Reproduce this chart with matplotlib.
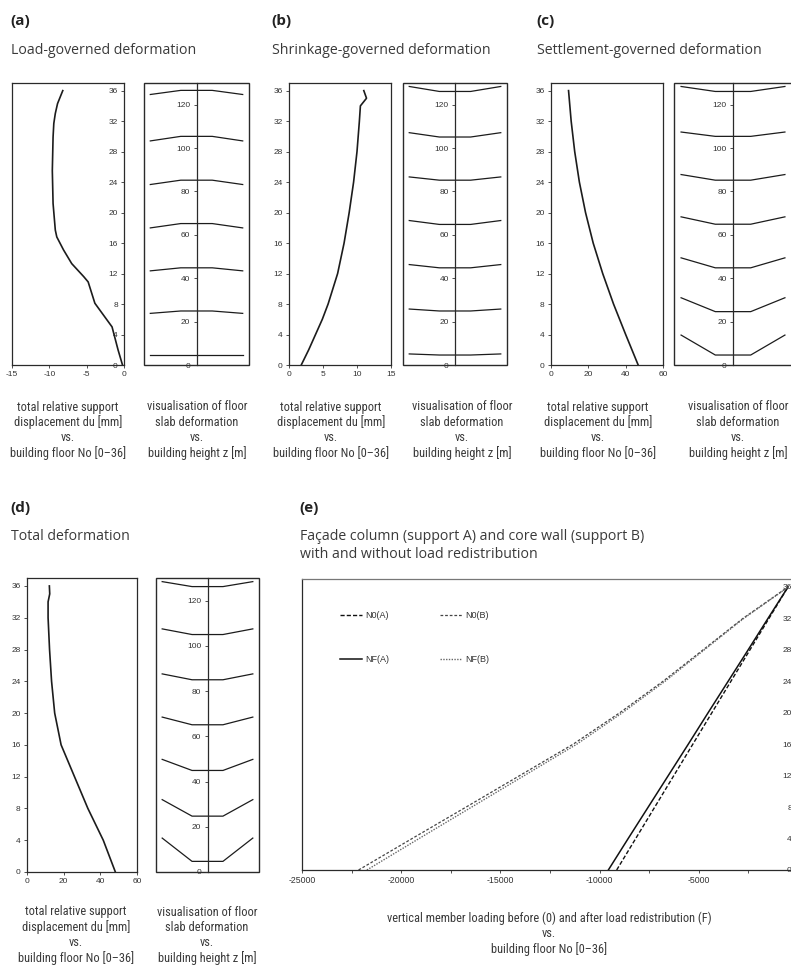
import matplotlib as mpl
import matplotlib.pyplot as plt
from matplotlib.patches import Rectangle

mpl.rcParams.update({
    "font.family": ["Liberation Sans", "DejaVu Sans"],
    "axes.unicode_minus": False,
    "axes.linewidth": 0.9,
})

W, H = 791, 965
LINE = "#1c1c1c"
FRAME = "#2a2a2a"
TXT = "#3a3a3a"
TICK_FONT = ["Liberation Sans", "DejaVu Sans"]
CAP_FONT = ["Roboto Condensed", "Liberation Sans Narrow", "Liberation Sans", "DejaVu Sans"]
HEAD_FONT = ["Open Sans", "DejaVu Sans"]

# --- support displacement du [mm] vs floor ---
floors_a = [0, 2, 5, 8.1, 10.9, 11.6, 13.3, 15.1, 16.8, 17.7, 21.2, 25.5, 29.9, 31.7, 33, 34.3, 36]
du_a = [-0.2, -0.8, -1.6, -3.9, -4.8, -5.4, -7.0, -8.1, -9.0, -9.2, -9.5, -9.6, -9.5, -9.4, -9.2, -8.9, -8.2]

floors_b = [0, 2, 4, 6, 8, 12, 16, 20, 24, 28, 32, 34, 35, 36]
du_b = [1.8, 2.9, 3.9, 4.9, 5.75, 7.15, 8.1, 8.85, 9.5, 10.0, 10.35, 10.5, 11.4, 11.0]

floors_c = [0, 4, 8, 12, 16, 20, 24, 28, 32, 36]
du_c = [46.7, 40.0, 33.5, 27.7, 22.6, 18.5, 15.2, 12.7, 10.8, 9.4]

floors_d = [0, 4, 8, 12, 16, 20, 24, 28, 32, 34, 35, 36]
du_d = [48.2, 41.6, 33.2, 25.9, 18.6, 15.1, 13.4, 12.3, 11.5, 11.5, 12.4, 12.2]

# --- floor slab visualisation: height z [m] at slab edge / at core ---
slab_x = [-0.88, -0.3, 0.3, 0.88]
edge_a = [4.6, 23.8, 43.4, 63.2, 83.2, 103.3, 124.7]
core_a = [4.6, 24.9, 44.8, 65.2, 85.2, 105.4, 126.6]
edge_b = [5.1, 25.8, 46.3, 66.6, 86.7, 107.1, 128.4]
core_b = [4.6, 24.9, 44.8, 64.8, 85.2, 105.1, 126.1]
edge_c = [13.8, 31.0, 49.4, 68.3, 87.8, 107.4, 128.4]
core_c = [4.6, 24.6, 44.8, 64.9, 85.2, 105.4, 126.1]
edge_d = [15.0, 32.0, 49.8, 68.5, 87.6, 107.5, 128.4]
core_d = [4.7, 24.7, 44.9, 65.1, 85.0, 105.0, 126.2]

# --- (e) vertical member loading vs floor ---
floors_e = [0, 4, 8, 12, 16, 20, 24, 28, 32, 36]
n0_a = [-9140, -8180, -7220, -6260, -5300, -4340, -3380, -2420, -1460, -500]
nf_a = [-9560, -8560, -7550, -6540, -5530, -4530, -3520, -2510, -1510, -500]
n0_b = [-22150, -19450, -16730, -14030, -11330, -8980, -6800, -4780, -2770, -500]
nf_b = [-21730, -19100, -16450, -13800, -11150, -8850, -6700, -4720, -2730, -480]

cap_main = ["total relative support", "displacement du [mm]", "vs.", "building floor No [0\u201336]"]
cap_viz = ["visualisation of floor", "slab deformation", "vs.", "building height z [m]"]
cap_e = ["vertical member loading before (0) and after load redistribution (F)", "vs.",
         "building floor No [0\u201336]"]


def rect(x0, y0, x1, y1):
    return [x0 / W, 1 - y1 / H, (x1 - x0) / W, (y1 - y0) / H]


def ticks_style(ax):
    ax.tick_params(labelsize=6, colors="#333333", length=2.5, width=0.6, pad=2)
    for lbl in ax.get_xticklabels() + ax.get_yticklabels():
        lbl.set_family(TICK_FONT)


def main_panel(ax, floors, du, xlim, xticks, axis_right=False):
    if axis_right:
        ax.spines["left"].set_position(("axes", 1.0))
        ax.spines["right"].set_position(("axes", 0.0))
    for s in ax.spines.values():
        s.set_color(FRAME)
    ax.plot(du, floors, color=LINE, lw=1.2)
    ax.set_xlim(*xlim)
    ax.set_ylim(0, 37)
    ax.set_xticks(xticks)
    ax.set_yticks(range(0, 37, 4))
    ax.yaxis.set_ticks_position("left")
    ax.xaxis.set_ticks_position("bottom")
    ticks_style(ax)


def viz_panel(ax, edge, core):
    for ze, zc in zip(edge, core):
        ax.plot(slab_x, [ze, zc, zc, ze], color=LINE, lw=0.9)
    ax.set_xlim(-1, 1)
    ax.set_ylim(0, 130)
    ax.spines["left"].set_position(("data", 0))
    ax.spines["left"].set_color(FRAME)
    for s in ["right", "top", "bottom"]:
        ax.spines[s].set_visible(False)
    ax.add_patch(Rectangle((0, 0), 1, 1, transform=ax.transAxes, fill=False,
                           lw=1.0, ec=FRAME, clip_on=False))
    ax.set_xticks([])
    ax.set_yticks(range(0, 121, 20))
    ax.yaxis.set_ticks_position("left")
    ticks_style(ax)


def fit_size(text, target_px, base):
    # shrink the caption font when no condensed face is installed
    t = fig.text(0, 0, text, fontsize=base, family=CAP_FONT)
    w = t.get_window_extent(fig.canvas.get_renderer()).width
    t.remove()
    return base * min(1.0, target_px / w)


def caption(lines, xc, y0, size, step=15.2):
    for i, t in enumerate(lines):
        fig.text(xc / W, 1 - (y0 + i * step) / H, t, ha="center", va="center",
                 fontsize=size, color=TXT, family=CAP_FONT)


def heading(tag, lines, x, y):
    fig.text(x / W, 1 - y / H, tag, ha="left", va="center", fontsize=11,
             fontweight="bold", color="#222222", family=HEAD_FONT)
    for i, t in enumerate(lines):
        fig.text((x + 1) / W, 1 - (y + 29 + i * 18) / H, t, ha="left", va="center",
                 fontsize=10.2, color=TXT, family=HEAD_FONT)


fig = plt.figure(figsize=(W / 100, H / 100), dpi=100)

ax = fig.add_axes(rect(12, 83, 124, 365))
main_panel(ax, floors_a, du_a, (-15, 0), [-15, -10, -5, 0], axis_right=True)
viz_panel(fig.add_axes(rect(144, 83, 249, 365)), edge_a, core_a)

ax = fig.add_axes(rect(289, 83, 391, 365))
main_panel(ax, floors_b, du_b, (0, 15), [0, 5, 10, 15])
viz_panel(fig.add_axes(rect(403, 83, 507, 365)), edge_b, core_b)

ax = fig.add_axes(rect(551, 83, 663, 365))
main_panel(ax, floors_c, du_c, (0, 60), [0, 20, 40, 60])
viz_panel(fig.add_axes(rect(674, 83, 792, 365)), edge_c, core_c)

ax = fig.add_axes(rect(27, 578, 137, 872))
main_panel(ax, floors_d, du_d, (0, 60), [0, 20, 40, 60])
viz_panel(fig.add_axes(rect(156, 578, 259, 872)), edge_d, core_d)

# (e) loading chart, y axis sits at x = 0 just beyond the right edge
ax = fig.add_axes(rect(302, 579, 798, 870))
ax.spines["left"].set_position(("axes", 1.0))
ax.spines["right"].set_position(("axes", 0.0))
for s in ax.spines.values():
    s.set_color(FRAME)
ax.spines["top"].set_color("#777777")
ax.plot(n0_a, floors_e, color="#111111", lw=1.0, ls=(0, (3, 1.5)), label="N0(A)")
ax.plot(nf_a, floors_e, color="#111111", lw=1.1, label="NF(A)")
ax.plot(n0_b, floors_e, color="#444444", lw=0.9, ls=(0, (2.2, 1.5)), label="N0(B)")
ax.plot(nf_b, floors_e, color="#666666", lw=1.0, ls=(0, (1, 1)), label="NF(B)")
ax.set_xlim(-25000, 0)
ax.set_ylim(0, 37)
ax.set_xticks(range(-25000, 1, 5000))
ax.set_xticks(range(-22500, 0, 5000), minor=True)
ax.set_yticks(range(0, 37, 4))
ax.yaxis.set_ticks_position("left")
ax.xaxis.set_ticks_position("bottom")
ticks_style(ax)
ax.tick_params(axis="x", labelsize=6.3)
ax.tick_params(which="minor", length=2.5, width=0.6, colors="#333333")
leg = ax.legend(loc="upper left", bbox_to_anchor=(0.068, 0.905), ncol=2, frameon=False,
                handlelength=2.4, labelspacing=3.9, columnspacing=5.6,
                handletextpad=0.4, borderpad=0, prop={"family": TICK_FONT, "size": 6.5})
for t in leg.get_texts():
    t.set_color("#333333")

# headings
heading("(a)", ["Load-governed deformation"], 10, 21)
heading("(b)", ["Shrinkage-governed deformation"], 271, 21)
heading("(c)", ["Settlement-governed deformation"], 536, 21)
heading("(d)", ["Total deformation"], 10, 508)
heading("(e)", ["Fa\u00e7ade column (support A) and core wall (support B)",
                "with and without load redistribution"], 299, 508)

# captions
cap_size = fit_size(cap_main[0], 102, 9.5)
cap_e_size = fit_size(cap_e[0], 324, 9.5)
for xm, xv in [(68, 197), (331, 462), (598, 738)]:
    caption(cap_main, xm, 407, cap_size)
    caption(cap_viz, xv, 407, cap_size)
caption(cap_main, 76, 912, cap_size)
caption(cap_viz, 207, 912, cap_size)
caption(cap_e, 549, 918, cap_e_size, step=15.5)

fig.savefig("out.png", dpi=100)
